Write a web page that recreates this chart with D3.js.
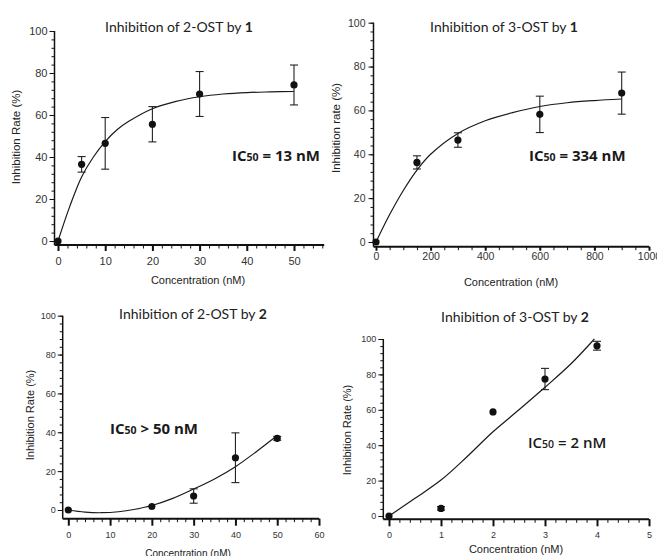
<!DOCTYPE html>
<html>
<head>
<meta charset="utf-8">
<script src="https://cdn.jsdelivr.net/npm/d3@7"></script>
<style>
  body { margin: 0; background: #fff; }
  svg { display: block; }
</style>
</head>
<body>
<div id="chart"></div>
<script>
// ---- data ----
// 2-OST by 1
var conc1 = [0, 5, 10, 20, 30, 50];
var rate1 = [0, 36.5, 46.5, 55.6, 70, 74.3];
var err1  = [0, 3.7, 12.3, 8.4, 10.7, 9.5];
var fitX1 = [0, 2.5, 5, 7.5, 10, 12.5, 15, 20, 25, 30, 35, 40, 45, 50];
var fitY1 = [0, 16.5, 30.5, 40, 47.3, 53, 57, 63, 66.5, 68.7, 70, 70.7, 71, 71.2];

// 3-OST by 1
var conc2 = [0, 150, 300, 600, 900];
var rate2 = [0, 36.3, 46.5, 58.2, 67.9];
var err2  = [0, 3, 3.3, 8.3, 9.6];
var fitX2 = [0, 50, 100, 150, 200, 300, 400, 500, 600, 700, 800, 900];
var fitY2 = [0, 12.5, 23.5, 32.8, 40, 49.5, 55.3, 59, 61.8, 63.5, 64.5, 65.2];

// 2-OST by 2
var conc3 = [0, 20, 30, 40, 50];
var rate3 = [0, 1.8, 7.2, 26.9, 36.9];
var err3  = [0, 0, 3.7, 12.8, 1];
var fitX3 = [0, 4, 8, 12, 16, 20, 25, 30, 35, 40, 45, 50];
var fitY3 = [0, -1.1, -1.4, -0.9, 0.4, 2.3, 6, 10.8, 16, 22.3, 30, 38.3];

// 3-OST by 2
var conc4 = [0, 1, 2, 3, 4];
var rate4 = [0, 4.3, 58.8, 77.4, 96.2];
var err4  = [0, 1, 0, 6, 2.5];
var fitX4 = [0, 0.5, 1, 1.5, 2, 2.5, 3, 3.5, 3.95];
var fitY4 = [0, 10, 20.3, 33.5, 47.6, 60, 72.7, 86, 100];

var yTicks = [0, 20, 40, 60, 80, 100];

var svg = d3.select('#chart').append('svg')
    .attr('width', 657)
    .attr('height', 556);

function drawPanel(p) {
  var g = svg.append('g');

  var x = d3.scaleLinear().domain([0, p.xRef]).range([p.x0, p.xRefPx]);
  var y = d3.scaleLinear().domain([0, 100]).range([p.y0, p.y100]);

  // minor + major ticks on y
  var yMinor = d3.axisLeft(y).tickValues(d3.range(0, 101, p.yMinorStep))
      .tickSize(3).tickFormat('').tickSizeOuter(0);
  g.append('g').attr('transform', 'translate(' + p.yAxisX + ',0)').call(yMinor)
    .call(function(s) { s.select('.domain').remove(); });
  var yMajor = d3.axisLeft(y).tickValues(yTicks).tickSize(5).tickPadding(p.yPad)
      .tickFormat(d3.format('d')).tickSizeOuter(0);
  var ya = g.append('g').attr('transform', 'translate(' + p.yAxisX + ',0)').call(yMajor);
  ya.select('.domain').remove();
  ya.selectAll('text').style('font-size', p.tickFont + 'px');

  // x ticks
  var xMinor = d3.axisBottom(x).tickValues(p.xMinorTicks).tickSize(3.5).tickFormat('').tickSizeOuter(0);
  g.append('g').attr('transform', 'translate(0,' + p.xAxisY + ')').call(xMinor)
    .call(function(s) { s.select('.domain').remove(); });
  var xMajor = d3.axisBottom(x).tickValues(p.xTicks).tickSize(p.xTickLen).tickPadding(p.xPad)
      .tickFormat(d3.format('d')).tickSizeOuter(0);
  var xa = g.append('g').attr('transform', 'translate(0,' + p.xAxisY + ')').call(xMajor);
  xa.select('.domain').remove();
  xa.selectAll('line').attr('stroke-width', 2);
  xa.selectAll('text').style('font-size', p.tickFont + 'px');

  g.selectAll('.tick line').attr('stroke', '#111');
  g.selectAll('.tick text').attr('fill', '#333').style('font-family', 'Liberation Sans, Arial, sans-serif');

  // axis lines
  g.append('line')
    .attr('x1', p.yAxisX).attr('x2', p.yAxisX)
    .attr('y1', y(100)).attr('y2', p.xAxisY)
    .attr('stroke', '#111').attr('stroke-width', 1.5);
  g.append('line')
    .attr('x1', p.yAxisX).attr('x2', x(p.xEnd))
    .attr('y1', p.xAxisY).attr('y2', p.xAxisY)
    .attr('stroke', '#111').attr('stroke-width', 2);

  // fitted curve
  var fit = p.fitX.map(function(d, i) { return [d, p.fitY[i]]; });
  g.append('path')
    .datum(fit)
    .attr('fill', 'none')
    .attr('stroke', '#1a1a1a')
    .attr('stroke-width', 1.2)
    .attr('d', d3.line().x(function(d) { return x(d[0]); }).y(function(d) { return y(d[1]); })
      .curve(d3.curveCatmullRom));

  // error bars
  var pts = p.conc.map(function(d, i) { return {c: d, r: p.rate[i], e: p.err[i]}; });
  var eb = g.selectAll('.eb').data(pts.filter(function(d) { return d.e > 0; })).enter().append('g');
  eb.append('line')
    .attr('x1', function(d) { return x(d.c); }).attr('x2', function(d) { return x(d.c); })
    .attr('y1', function(d) { return y(d.r - d.e); }).attr('y2', function(d) { return y(d.r + d.e); })
    .attr('stroke', '#222').attr('stroke-width', 1.1);
  [-1, 1].forEach(function(sgn) {
    eb.append('line')
      .attr('x1', function(d) { return x(d.c) - 4; }).attr('x2', function(d) { return x(d.c) + 4; })
      .attr('y1', function(d) { return y(d.r + sgn * d.e); }).attr('y2', function(d) { return y(d.r + sgn * d.e); })
      .attr('stroke', '#222').attr('stroke-width', 1.1);
  });

  // points
  g.selectAll('.pt').data(pts).enter().append('circle')
    .attr('cx', function(d) { return x(d.c); })
    .attr('cy', function(d) { return y(d.r); })
    .attr('r', 3.6)
    .attr('fill', '#111');

  // title
  var t = g.append('text')
    .attr('x', p.titleX).attr('y', p.titleY)
    .attr('text-anchor', 'middle')
    .attr('dominant-baseline', 'central')
    .style('font-family', 'Lato, sans-serif')
    .style('font-size', '14px')
    .attr('fill', '#222');
  t.append('tspan').text(p.title);
  t.append('tspan').style('font-weight', 'bold').text(p.titleNum);

  // axis titles
  g.append('text')
    .attr('transform', 'translate(' + p.yTitleX + ',' + p.yTitleY + ') rotate(-90)')
    .attr('text-anchor', 'middle')
    .attr('dominant-baseline', 'central')
    .style('font-family', 'Liberation Sans, Arial, sans-serif')
    .style('font-size', p.axisFont + 'px')
    .attr('fill', '#222')
    .text(p.yTitle);
  g.append('text')
    .attr('x', p.xTitleX).attr('y', p.xTitleY)
    .attr('text-anchor', 'middle')
    .attr('dominant-baseline', 'central')
    .style('font-family', 'Liberation Sans, Arial, sans-serif')
    .style('font-size', p.xAxisFont + 'px')
    .attr('fill', '#222')
    .text('Concentration (nM)');

  // IC50 note
  var ic = g.append('text')
    .attr('x', p.icX).attr('y', p.icY)
    .attr('dominant-baseline', 'central')
    .style('font-family', 'Open Sans, sans-serif')
    .style('font-weight', p.icWeight)
    .style('font-size', '15px')
    .attr('fill', '#1a1a1a');
  ic.append('tspan').text('IC');
  ic.append('tspan').style('font-size', '10.5px').attr('dy', 1.5).text('50');
  ic.append('tspan').attr('dy', -1.5).text(p.icText);
}

drawPanel({
  conc: conc1, rate: rate1, err: err1, fitX: fitX1, fitY: fitY1,
  xRef: 50, x0: 58, xRefPx: 294, xEnd: 56.4, y0: 241, y100: 31,
  yAxisX: 54.5, xAxisY: 245,
  xTicks: [0, 10, 20, 30, 40, 50], xMinorTicks: d3.range(0, 57, 2), yMinorStep: 4,
  xTickLen: 6, xPad: 6, yPad: 2, tickFont: 11, axisFont: 11.5, xAxisFont: 11,
  title: 'Inhibition of 2-OST by ', titleNum: '1', titleX: 179, titleY: 26,
  yTitle: 'Inhibition Rate (%)', yTitleX: 16, yTitleY: 137,
  xTitleX: 198, xTitleY: 280,
  icX: 232, icY: 155, icText: ' = 13 nM', icWeight: 'bold'
});

drawPanel({
  conc: conc2, rate: rate2, err: err2, fitX: fitX2, fitY: fitY2,
  xRef: 1000, x0: 376, xRefPx: 649, xEnd: 1000, y0: 242, y100: 22.7,
  yAxisX: 373.5, xAxisY: 246.7,
  xTicks: [0, 200, 400, 600, 800, 1000], xMinorTicks: d3.range(0, 1001, 50), yMinorStep: 4,
  xTickLen: 4, xPad: 2, yPad: 3, tickFont: 10.5, axisFont: 11.5, xAxisFont: 11,
  title: 'Inhibition of 3-OST by ', titleNum: '1', titleX: 504, titleY: 26,
  yTitle: 'Inhibition rate (%)', yTitleX: 336, yTitleY: 128,
  xTitleX: 511, xTitleY: 282,
  icX: 529, icY: 155, icText: ' = 334 nM', icWeight: 'bold'
});

drawPanel({
  conc: conc3, rate: rate3, err: err3, fitX: fitX3, fitY: fitY3,
  xRef: 60, x0: 68.3, xRefPx: 319, xEnd: 60, y0: 510, y100: 315.7,
  yAxisX: 62.7, xAxisY: 518.7,
  xTicks: [0, 10, 20, 30, 40, 50, 60], xMinorTicks: d3.range(0, 61, 2), yMinorStep: 4,
  xTickLen: 7, xPad: 6, yPad: 2, tickFont: 9, axisFont: 11, xAxisFont: 10,
  title: 'Inhibition of 2-OST by ', titleNum: '2', titleX: 193, titleY: 313,
  yTitle: 'Inhibition Rate (%)', yTitleX: 30, yTitleY: 415,
  xTitleX: 188, xTitleY: 553,
  icX: 110, icY: 428, icText: ' > 50 nM', icWeight: 'bold'
});

drawPanel({
  conc: conc4, rate: rate4, err: err4, fitX: fitX4, fitY: fitY4,
  xRef: 5, x0: 389, xRefPx: 649, xEnd: 5, y0: 516, y100: 339,
  yAxisX: 383.3, xAxisY: 519.3,
  xTicks: [0, 1, 2, 3, 4, 5], xMinorTicks: d3.range(0, 5.01, 0.2), yMinorStep: 4,
  xTickLen: 7, xPad: 5, yPad: 2, tickFont: 9, axisFont: 11, xAxisFont: 11,
  title: 'Inhibition of 3-OST by ', titleNum: '2', titleX: 515, titleY: 316,
  yTitle: 'Inhibition Rate (%)', yTitleX: 347, yTitleY: 430,
  xTitleX: 516, xTitleY: 549,
  icX: 528, icY: 442, icText: ' = 2 nM', icWeight: '600'
});
</script>
</body>
</html>
